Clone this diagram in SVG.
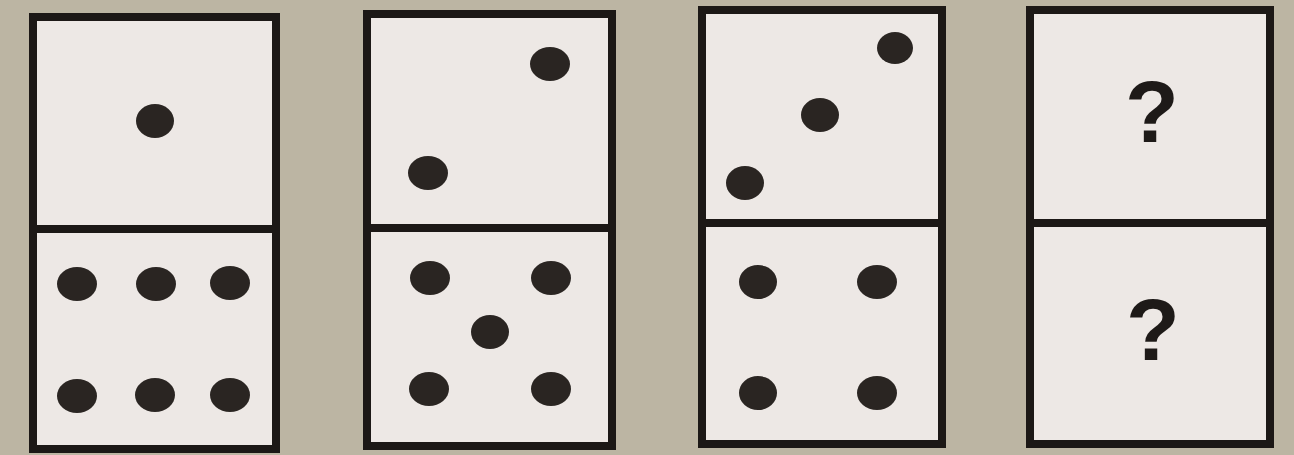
<svg xmlns="http://www.w3.org/2000/svg" width="1294" height="455" viewBox="0 0 1294 455">
<style>
.bg{fill:#bcb5a3}
.tile{fill:#ede8e5;stroke:#1c1816;stroke-width:8}
.div{stroke:#1c1816;stroke-width:8}
.pip{fill:#2a2522}
.q{font-family:"Liberation Sans",Arial,sans-serif;font-weight:bold;font-size:88px;fill:#1e1a18;text-anchor:middle}
</style>
<rect class="bg" x="0" y="0" width="1294" height="455"/>
<g id="domino1">
<rect class="tile" x="33" y="17" width="243" height="432"/>
<line class="div" x1="33" y1="229" x2="276" y2="229"/>
<ellipse class="pip" cx="155" cy="121" rx="19" ry="17"/>
<ellipse class="pip" cx="77" cy="284" rx="20" ry="17"/>
<ellipse class="pip" cx="156" cy="284" rx="20" ry="17"/>
<ellipse class="pip" cx="230" cy="283" rx="20" ry="17"/>
<ellipse class="pip" cx="77" cy="396" rx="20" ry="17"/>
<ellipse class="pip" cx="155" cy="395" rx="20" ry="17"/>
<ellipse class="pip" cx="230" cy="395" rx="20" ry="17"/>
</g>
<g id="domino2">
<rect class="tile" x="367" y="14" width="245" height="432"/>
<line class="div" x1="367" y1="228" x2="612" y2="228"/>
<ellipse class="pip" cx="550" cy="64" rx="20" ry="17"/>
<ellipse class="pip" cx="428" cy="173" rx="20" ry="17"/>
<ellipse class="pip" cx="430" cy="278" rx="20" ry="17"/>
<ellipse class="pip" cx="551" cy="278" rx="20" ry="17"/>
<ellipse class="pip" cx="490" cy="332" rx="19" ry="17"/>
<ellipse class="pip" cx="429" cy="389" rx="20" ry="17"/>
<ellipse class="pip" cx="551" cy="389" rx="20" ry="17"/>
</g>
<g id="domino3">
<rect class="tile" x="702" y="10" width="240" height="434"/>
<line class="div" x1="702" y1="223" x2="942" y2="223"/>
<ellipse class="pip" cx="895" cy="48" rx="18" ry="16"/>
<ellipse class="pip" cx="820" cy="115" rx="19" ry="17"/>
<ellipse class="pip" cx="745" cy="183" rx="19" ry="17"/>
<ellipse class="pip" cx="758" cy="282" rx="19" ry="17"/>
<ellipse class="pip" cx="877" cy="282" rx="20" ry="17"/>
<ellipse class="pip" cx="758" cy="393" rx="19" ry="17"/>
<ellipse class="pip" cx="877" cy="393" rx="20" ry="17"/>
</g>
<g id="domino4">
<rect class="tile" x="1030" y="10" width="240" height="434"/>
<line class="div" x1="1030" y1="223" x2="1270" y2="223"/>
<text class="q" x="1152" y="142">?</text>
<text class="q" x="1153" y="360">?</text>
</g>
<g id="connectors"></g>
</svg>
